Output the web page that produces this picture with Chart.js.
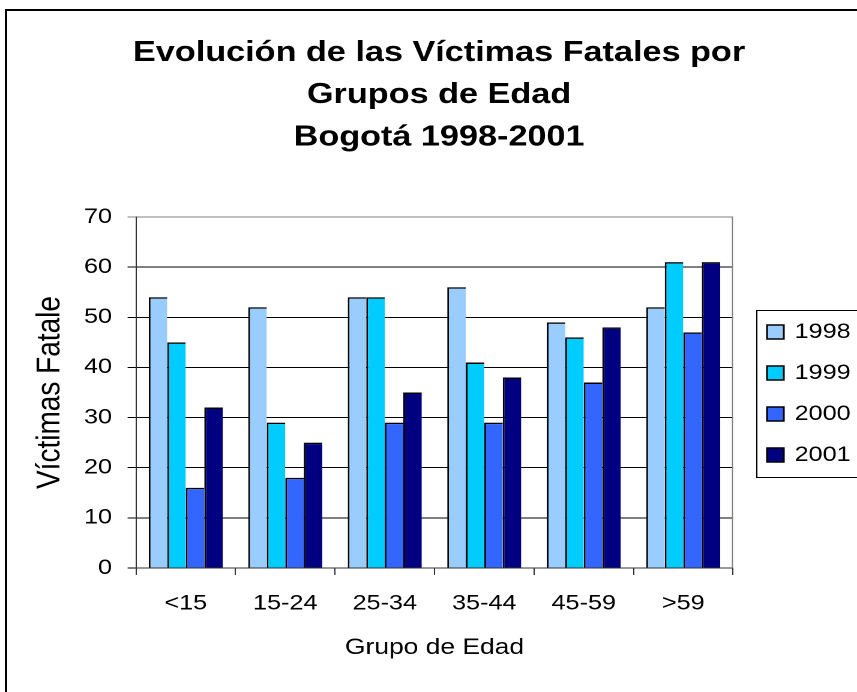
<!DOCTYPE html>
<html>
<head>
<meta charset="utf-8">
<script src="https://cdn.jsdelivr.net/npm/chart.js@4.4.1/dist/chart.umd.min.js"></script>
<style>
  html, body { margin: 0; padding: 0; background: #fff; overflow: hidden; }
  #frame { position: absolute; left: 5px; top: 9px; width: 900px; height: 800px; border: 2px solid #000; }
  /* the source chart is stretched sideways, so draw narrow and widen it */
  #stretch { position: absolute; left: 0; top: 0; width: 714px; height: 692px; transform: scaleX(1.2003); transform-origin: 0 0; }
</style>
</head>
<body>
<div id="frame"></div>
<div id="stretch"><canvas id="myChart" width="714" height="692"></canvas></div>
<script>
const categories = ['<15', '15-24', '25-34', '35-44', '45-59', '>59'];
const years = ['1998', '1999', '2000', '2001'];
const v1998 = [54, 52, 54, 56, 49, 52];
const v1999 = [45, 29, 54, 41, 46, 61];
const v2000 = [16, 18, 29, 29, 37, 47];
const v2001 = [32, 25, 35, 38, 48, 61];
const yMin = 0, yMax = 70, yStep = 10;

const series = [v1998, v1999, v2000, v2001];
const barColors = ['#99CCFF', '#00CCFF', '#3366FF', '#000080'];
const FONT = '"Liberation Sans", Arial, sans-serif';

Chart.defaults.font.family = FONT;
Chart.defaults.color = '#000';

// gray right edge of the plot area
const plotFrame = {
    id: 'plotFrame',
    beforeDatasetsDraw(chart) {
        const { ctx, chartArea: a } = chart;
        ctx.save();
        ctx.strokeStyle = '#808080';
        ctx.lineWidth = 1;
        ctx.beginPath();
        ctx.moveTo(a.right - 0.5, a.top);
        ctx.lineTo(a.right - 0.5, a.bottom);
        ctx.stroke();
        ctx.restore();
    }
};

// boxed legend, cut off by the right edge like the original
const boxLegend = {
    id: 'boxLegend',
    afterDraw(chart) {
        const { ctx } = chart;
        const left = 630, top = 310, bottom = 477, rowGap = 41;
        ctx.save();
        ctx.strokeStyle = '#000';
        ctx.lineWidth = 1;
        ctx.strokeRect(left + 0.5, top + 0.5, chart.width, bottom - top);
        ctx.font = '21px ' + FONT;
        ctx.textBaseline = 'middle';
        chart.data.datasets.forEach((ds, i) => {
            const y = top + 22 + i * rowGap;
            ctx.fillStyle = ds.backgroundColor;
            ctx.fillRect(left + 9, y - 7, 14, 14);
            ctx.strokeStyle = '#000';
            ctx.lineWidth = 1.5;
            ctx.strokeRect(left + 9, y - 7, 14, 14);
            ctx.fillStyle = '#000';
            ctx.fillText(ds.label, left + 32, y);
        });
        ctx.restore();
    }
};

var ctx = document.getElementById('myChart');
var myChart = new Chart(ctx, {
    type: 'bar',
    data: {
        labels: categories,
        datasets: years.map((y, i) => ({
            label: y,
            data: series[i],
            backgroundColor: barColors[i],
            borderColor: '#000',
            borderWidth: { top: 1.5, left: 1.5, right: 0, bottom: 0 },
            categoryPercentage: 0.744,
            barPercentage: 1
        }))
    },
    options: {
        responsive: false,
        animation: false,
        devicePixelRatio: 2,
        // negative right padding lets the title centre sit where the original has it
        layout: { padding: { left: 0, top: 0, bottom: 0, right: -17.6 } },
        plugins: {
            legend: { display: false },
            tooltip: { enabled: false },
            title: {
                display: true,
                text: ['Evolución de las Víctimas Fatales por', 'Grupos de Edad', 'Bogotá 1998-2001'],
                font: { size: 28.5, weight: 'bold', lineHeight: 1.48 },
                color: '#000',
                padding: { top: 32, bottom: 58.5 }
            }
        },
        scales: {
            x: {
                grid: { offset: true, drawOnChartArea: false, drawTicks: true, tickLength: 7, color: '#333' },
                border: { color: '#333', width: 1 },
                ticks: { font: { size: 21 }, color: '#000', padding: 16, maxRotation: 0 },
                title: { display: true, text: 'Grupo de Edad', font: { size: 22 }, color: '#000', padding: { top: 0, bottom: 31 } },
                afterFit: s => { s.height = 124; }
            },
            y: {
                min: yMin,
                max: yMax,
                ticks: { stepSize: yStep, font: { size: 21 }, color: '#000', padding: 13 },
                grid: { color: c => (c.tick && c.tick.value === yMax ? '#808080' : '#000'), tickLength: 7 },
                border: { color: '#333', width: 1 },
                title: { display: true, text: 'Víctimas Fatale', font: { size: 28 }, color: '#000', padding: { top: 25, bottom: 0 } },
                afterFit: s => { s.width = 113.3; }
            },
            // empty space on the right where the legend box sits
            spacer: {
                type: 'linear',
                position: 'right',
                grid: { display: false },
                ticks: { display: false },
                border: { display: false },
                afterFit: s => { s.width = 120.9; }
            }
        }
    },
    plugins: [plotFrame, boxLegend]
});
</script>
</body>
</html>
